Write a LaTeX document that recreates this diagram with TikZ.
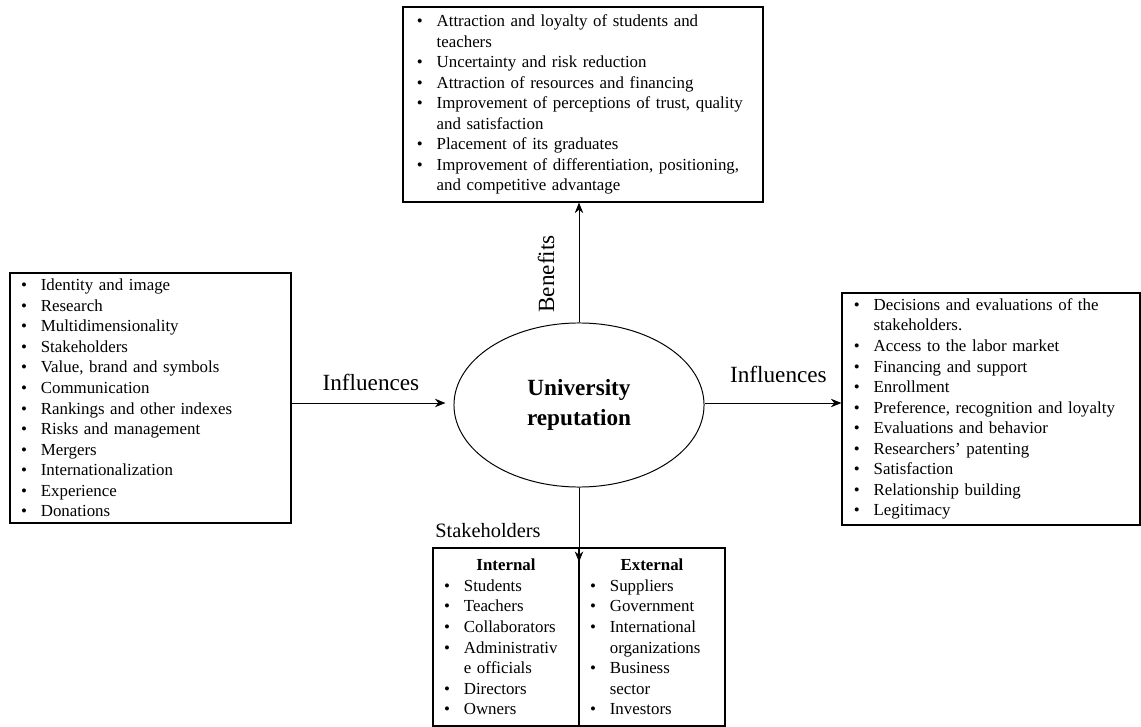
\documentclass[tikz,border=0pt]{standalone}
\usepackage{fontspec}
\setmainfont{Liberation Serif}
\usepackage{tikz}
\usetikzlibrary{shapes.geometric,arrows.meta}
\newcommand{\itm}{\makebox[14pt][l]{\textbullet}}
\newcommand{\cnt}{\hspace*{14pt}}
\newcommand{\boxfont}{\fontsize{12}{14.6}\selectfont}
\newcommand{\lblfont}{\fontsize{16.5}{20}\selectfont}

\begin{document}
\begin{tikzpicture}[>={Stealth[length=7.5pt,width=6pt]},x=0.025cm,y=-0.025cm,
  listbox/.style={draw,line width=0.8pt,align=left,font=\boxfont,inner ysep=0pt},
  arr/.style={->,line width=0.6pt}]
\useasboundingbox (0,0) rectangle (1141,727);
\node[ellipse,draw,line width=0.7pt,minimum width=6.25cm,minimum height=4.1cm,align=center,
  font=\fontsize{16.5}{21}\selectfont\bfseries] (uni) at (579,405) {University\\reputation};
\node[listbox,minimum width=9cm,minimum height=4.875cm,text width=8.3cm,inner xsep=0.35cm] (ben) at (583,104.5) {%
\itm Attraction and loyalty of students and\\
\cnt teachers\\
\itm Uncertainty and risk reduction\\
\itm Attraction of resources and financing\\
\itm Improvement of perceptions of trust, quality\\
\cnt and satisfaction\\
\itm Placement of its graduates\\
\itm Improvement of differentiation, positioning,\\
\cnt and competitive advantage};
\node[listbox,minimum width=7.025cm,minimum height=6.25cm,text width=6.465cm,inner xsep=0.28cm] (cause) at (150.5,398) {%
\itm Identity and image\\
\itm Research\\
\itm Multidimensionality\\
\itm Stakeholders\\
\itm Value, brand and symbols\\
\itm Communication\\
\itm Rankings and other indexes\\
\itm Risks and management\\
\itm Mergers\\
\itm Internationalization\\
\itm Experience\\
\itm Donations};
\node[listbox,minimum width=7.45cm,minimum height=5.8cm,text width=6.85cm,inner xsep=0.3cm] (effect) at (991,409) {%
\itm Decisions and evaluations of the\\
\cnt stakeholders.\\
\itm Access to the labor market\\
\itm Financing and support\\
\itm Enrollment\\
\itm Preference, recognition and loyalty\\
\itm Evaluations and behavior\\
\itm Researchers' patenting\\
\itm Satisfaction\\
\itm Relationship building\\
\itm Legitimacy};
\node[listbox,minimum width=3.65cm,minimum height=4.45cm,text width=3.09cm,inner xsep=0.28cm] (intl) at (506,637) {%
\makebox[\linewidth]{\textbf{Internal}}\\
\itm Students\\
\itm Teachers\\
\itm Collaborators\\
\itm Administrativ\\
\cnt e officials\\
\itm Directors\\
\itm Owners};
\node[listbox,minimum width=3.65cm,minimum height=4.45cm,text width=3.09cm,inner xsep=0.28cm] (extl) at (652,637) {%
\makebox[\linewidth]{\textbf{External}}\\
\itm Suppliers\\
\itm Government\\
\itm International\\
\cnt organizations\\
\itm Business\\
\cnt sector\\
\itm Investors};
\coordinate (tip) at (579,562);
% connectors
\draw[arr,shorten >=0.2cm] (cause.east |- 0,403)--node[pos=0.49,above=5.2pt,font=\lblfont]{Influences}(uni.west |- 0,403);
\draw[arr] (uni.east |- 0,403)--node[pos=0.54,above=10.9pt,font=\lblfont]{Influences}(effect.west |- 0,403);
\draw[arr] (uni.north)--(ben.south -| uni.north);
\draw[arr] (uni.south)--(tip);
\node[rotate=90,font=\lblfont] (benlbl) at (546,274) {Benefits};
\node[font=\fontsize{14.5}{17}\selectfont] (stk) at (488,531) {Stakeholders};
\end{tikzpicture}
\end{document}
